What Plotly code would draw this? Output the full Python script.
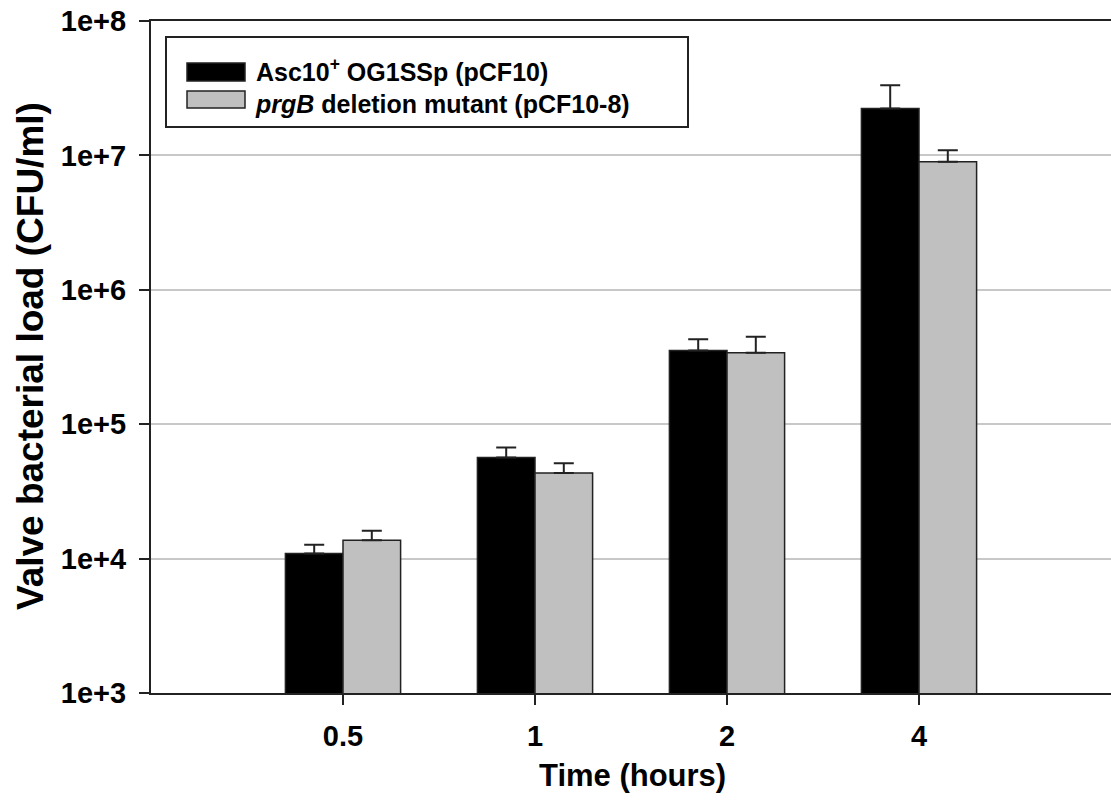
import plotly.graph_objects as go

# ---- data ----
time_labels = ["0.5", "1", "2", "4"]
wt_name = "Asc10<sup>+</sup> OG1SSp (pCF10)"
mut_name = "<i>prgB</i> deletion mutant (pCF10-8)"
wt_values = [1.09e4, 5.66e4, 3.53e5, 2.23e7]
wt_err = [1.8e3, 1.05e4, 7.6e4, 1.09e7]
mut_values = [1.37e4, 4.34e4, 3.40e5, 8.95e6]
mut_err = [2.4e3, 7.8e3, 1.08e5, 1.95e6]
y_tickvals = [1e3, 1e4, 1e5, 1e6, 1e7, 1e8]
y_ticktext = ["1e+3", "1e+4", "1e+5", "1e+6", "1e+7", "1e+8"]

FONT = "Liberation Sans, Arial, sans-serif"
LINE = "#222222"

L, R, T, B = 151, 0, 21, 117
W, H = 1111, 810
PW, PH = W - L - R, H - T - B


def px(x):
    return (x - L) / PW


def py(y):
    return (H - B - y) / PH


fig = go.Figure()
fig.add_trace(go.Bar(
    x=time_labels, y=wt_values, name=wt_name,
    marker=dict(color="#000000", line=dict(color=LINE, width=1.5)),
    error_y=dict(type="data", array=wt_err, arrayminus=[0] * 4, symmetric=False,
                 color=LINE, thickness=2, width=10),
    showlegend=False,
))
fig.add_trace(go.Bar(
    x=time_labels, y=mut_values, name=mut_name,
    marker=dict(color="#c0c0c0", line=dict(color=LINE, width=1.5)),
    error_y=dict(type="data", array=mut_err, arrayminus=[0] * 4, symmetric=False,
                 color=LINE, thickness=2, width=10),
    showlegend=False,
))

# legend (drawn as box + swatches + labels)
shapes = [
    dict(type="rect", xref="paper", yref="paper", x0=px(166), x1=px(688), y0=py(37), y1=py(127),
         line=dict(color=LINE, width=2), fillcolor="white", layer="above"),
    dict(type="rect", xref="paper", yref="paper", x0=px(187), x1=px(245), y0=py(63), y1=py(81),
         line=dict(color=LINE, width=1.5), fillcolor="#000000", layer="above"),
    dict(type="rect", xref="paper", yref="paper", x0=px(187), x1=px(245), y0=py(91), y1=py(108),
         line=dict(color=LINE, width=1.5), fillcolor="#c0c0c0", layer="above"),
]
annotations = [
    dict(text="<b>" + wt_name + "<br>" + mut_name + "</b>", xref="paper", yref="paper",
         x=px(253), y=py(86), xanchor="left", yanchor="middle", align="left",
         showarrow=False, font=dict(size=25, color="#000")),
    dict(text="<b>Valve bacterial load (CFU/ml)</b>", xref="paper", yref="paper",
         x=px(30), y=py(356), textangle=-90, xanchor="center", yanchor="middle",
         showarrow=False, font=dict(size=37, color="#000")),
    dict(text="<b>Time (hours)</b>", xref="paper", yref="paper",
         x=px(632), y=py(776), xanchor="center", yanchor="middle",
         showarrow=False, font=dict(size=31, color="#000")),
]

fig.update_layout(
    width=W, height=H,
    margin=dict(l=L, r=R, t=T, b=B, pad=0),
    paper_bgcolor="white", plot_bgcolor="white",
    font=dict(family=FONT, color="#000"),
    barmode="group", bargap=0.4, bargroupgap=0,
    shapes=shapes, annotations=annotations,
)
fig.update_xaxes(
    type="category", range=[-1, 4],
    tickvals=time_labels, ticktext=["<b>" + t + "</b>" for t in time_labels],
    showline=True, linecolor=LINE, linewidth=2, mirror=True,
    ticks="outside", ticklen=10, tickwidth=2, tickcolor=LINE,
    tickfont=dict(size=29, family=FONT, color="#000"),
    ticklabelstandoff=6,
    showgrid=False, zeroline=False,
)
fig.update_yaxes(
    type="log", range=[3, 8],
    tickvals=y_tickvals, ticktext=["<b>" + t + "</b>" for t in y_ticktext],
    showline=True, linecolor=LINE, linewidth=2,
    ticks="outside", ticklen=10, tickwidth=1.5, tickcolor=LINE,
    tickfont=dict(size=29, family=FONT, color="#000"),
    ticklabelstandoff=7,
    showgrid=True, gridcolor="#c8c8c8", gridwidth=1.5, zeroline=False,
)

fig.write_html("out.html")
